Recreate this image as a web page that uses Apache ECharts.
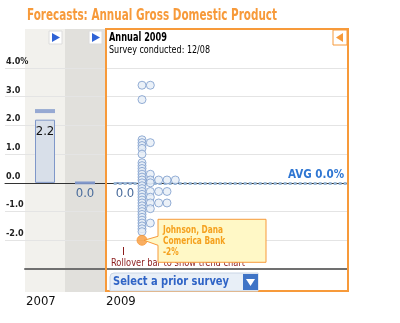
<!DOCTYPE html>
<html><head><meta charset="utf-8">
<script src="https://cdn.jsdelivr.net/npm/echarts@6/dist/echarts.min.js"></script>
<style>html,body{margin:0;padding:0;background:#fff}#c{width:400px;height:323px}</style>
</head><body><div id="c"></div>
<script>
// Annual GDP growth, %
const years = ['2007', '2008', '2009'];
const reportedGrowth = [2.2, 0.0, 0.0];
const priorConsensus = [2.5, 0.0, null];
const yTickValues = [4, 3, 2, 1, 0, -1, -2];

// 2009 survey: one value per economist, %
const forecasts2009 = [3.4, 3.4, 2.9, 1.5, 1.4, 1.4, 1.3, 1.2, 1.0, 0.7, 0.6, 0.5, 0.4,
  0.3, 0.3, 0.2, 0.1, 0.1, 0.1, 0.1, 0.1, 0.0, 0.0, -0.1, -0.2, -0.3, -0.3, -0.3, -0.3,
  -0.4, -0.5, -0.5, -0.6, -0.7, -0.7, -0.7, -0.7, -0.8, -0.9, -0.9, -1.0, -1.1, -1.2,
  -1.3, -1.4, -1.4, -1.5, -1.6, -1.7, -2.0];
const surveyAverage = 0.0;
const highlighted = { name: 'Johnson, Dana', firm: 'Comerica Bank', value: -2.0 };

const ORANGE = '#f79a3a';

// pick a condensed face when one is installed
const probe = document.createElement('canvas').getContext('2d');
function textWidth(font, t) { probe.font = font; return probe.measureText(t).width; }
const condensedOK = textWidth("condensed 20px 'DejaVu Sans'", 'Survey conducted') <
  0.95 * textWidth("20px 'DejaVu Sans'", 'Survey conducted');
const FAMILY = condensedOK ? "'DejaVu Sans'" : "'Liberation Sans'";
const STRETCH = condensedOK ? 'condensed' : 'normal';
const fontOf = (size, weight) => (condensedOK ? 'condensed ' : '') + (weight || 'normal') + ' ' + size + 'px ' + FAMILY;

// text squeezed to a given width
function fitText(id, text, x, y, size, weight, fill, targetW, z) {
  const font = fontOf(size, weight);
  const s = targetW / textWidth(font, text);
  return { type: 'text', id: id, z: z || 50, x: x, y: y, scaleX: s,
    style: { text: text, fill: fill, font: font, textVerticalAlign: 'middle' } };
}

// stack repeated values side by side
const seen = {};
const dots = forecasts2009.map(v => {
  const key = v.toFixed(1);
  const k = seen[key] || 0;
  seen[key] = k + 1;
  const item = { value: [k, v] };
  if (v === highlighted.value && k === 0) {
    item.symbolSize = 10;
    item.z = 10;
    item.itemStyle = { color: ORANGE, borderColor: ORANGE };
  }
  return item;
});

const yBase = { type: 'value', min: -3, max: 4, interval: 1 };
const plainY = i => Object.assign({}, yBase, { gridIndex: i, show: false, splitLine: { show: false } });
const gTop = 68, gH = 201;
const lbl = (size, weight) => ({ fontSize: size, fontWeight: weight || 'normal', fontFamily: FAMILY, fontStyle: STRETCH });

const chart = echarts.init(document.getElementById('c'));
chart.setOption({
  animation: false,
  grid: [
    { left: 5, width: 342, top: gTop, height: gH * 6 / 7 },  // gridlines + zero line
    { left: 25, width: 120, top: gTop, height: gH },         // year columns
    { left: 106, width: 242, top: gTop, height: gH },        // 2009 forecast dots
    { left: 25, width: 322, top: gTop, height: gH }          // base line
  ],
  xAxis: [
    { gridIndex: 0, type: 'value', min: 0, max: 1, axisLine: { show: true, onZero: true, lineStyle: { color: '#333', width: 1 } },
      axisTick: { show: false }, axisLabel: { show: false }, splitLine: { show: false } },
    { gridIndex: 1, type: 'category', data: years, axisLine: { show: false }, axisTick: { show: false },
      axisLabel: Object.assign({ margin: 26, color: '#111',
        formatter: v => '{y|' + v + '}', rich: { y: Object.assign({ width: 38, align: 'left', color: '#111' }, lbl(13)) } }, lbl(13)) },
    { gridIndex: 2, type: 'value', min: -4.32, max: 24.72, show: false },
    { gridIndex: 3, type: 'value', min: 0, max: 1, axisLine: { show: true, onZero: false, lineStyle: { color: '#707070', width: 2 } },
      axisTick: { show: false }, axisLabel: { show: false }, splitLine: { show: false } }
  ],
  yAxis: [
    { gridIndex: 0, type: 'value', min: -2, max: 4, interval: 1, axisLine: { show: false }, axisTick: { show: false },
      splitLine: { lineStyle: { color: '#e4e4e4', width: 1 } },
      axisLabel: Object.assign({ inside: true, margin: 1, verticalAlign: 'bottom', padding: [0, 0, 2, 0], color: '#222',
        formatter: v => yTickValues.indexOf(v) < 0 ? '' : (v === 4 ? v.toFixed(1) + '%' : v.toFixed(1)) }, lbl(9, 'bold')) },
    plainY(1), plainY(2), plainY(3)
  ],
  graphic: [
    { type: 'rect', id: 'bg07', z: -5, shape: { x: 25, y: 29, width: 40, height: 263 }, style: { fill: '#f2f1ed' } },
    { type: 'rect', id: 'bg08', z: -5, shape: { x: 65, y: 29, width: 41, height: 263 }, style: { fill: '#e1e0dc' } },
    { type: 'rect', id: 'bg09', z: -5, shape: { x: 106, y: 29, width: 242, height: 262 }, style: { fill: '#fff' } },
    { type: 'rect', id: 'frame', z: 50, shape: { x: 106, y: 29, width: 242, height: 262 }, style: { fill: 'none', stroke: ORANGE, lineWidth: 2 } },
    fitText('title', 'Forecasts: Annual Gross Domestic Product', 27, 16, 15, 'bold', ORANGE, 250),
    // column arrows
    { type: 'rect', id: 'b1', z: 50, shape: { x: 49, y: 31, width: 13, height: 13 }, style: { fill: '#fff', stroke: '#dcdcdc' } },
    { type: 'polygon', id: 'b1a', z: 51, shape: { points: [[52, 33], [52, 42], [60, 37.5]] }, style: { fill: '#2f63d6' } },
    { type: 'rect', id: 'b2', z: 50, shape: { x: 89, y: 31, width: 13, height: 13 }, style: { fill: '#fff', stroke: '#dcdcdc' } },
    { type: 'polygon', id: 'b2a', z: 51, shape: { points: [[92, 33], [92, 42], [100, 37.5]] }, style: { fill: '#2f63d6' } },
    { type: 'rect', id: 'b3', z: 50, shape: { x: 333, y: 30, width: 14, height: 15 }, style: { fill: '#fff', stroke: ORANGE } },
    { type: 'polygon', id: 'b3a', z: 51, shape: { points: [[343, 33], [343, 42], [336, 37.5]] }, style: { fill: ORANGE } },
    fitText('yr', 'Annual 2009', 109, 38, 13, 'bold', '#000', 58),
    fitText('sv', 'Survey conducted: 12/08', 109, 50, 11, 'normal', '#000', 101),
    // hint
    { type: 'line', id: 'tick', z: 5, shape: { x1: 123.5, y1: 247, x2: 123.5, y2: 255 }, style: { stroke: '#8b1c1c', lineWidth: 1 } },
    fitText('hint', 'Rollover bar to show trend chart', 111, 263, 11, 'normal', '#8b1c1c', 134, 5),
    // survey selector
    { type: 'rect', id: 'sel', z: 50, shape: { x: 110, y: 273, width: 148, height: 18, r: [4, 0, 0, 0] }, style: { fill: '#e8eff7', stroke: '#c9d6e6' } },
    fitText('selt', 'Select a prior survey', 113, 282, 12.5, 'bold', '#2f64c6', 116, 51),
    { type: 'rect', id: 'selb', z: 51, shape: { x: 243, y: 274, width: 15, height: 16 }, style: { fill: '#3f74c6' } },
    { type: 'polygon', id: 'selba', z: 52, shape: { points: [[246, 279], [255, 279], [250.5, 286]] }, style: { fill: '#fff' } }
  ],
  series: [
    { type: 'bar', xAxisIndex: 1, yAxisIndex: 1, barWidth: 20, z: 3,
      data: reportedGrowth.map(v => ({
        value: v,
        label: Object.assign(v > 0
          ? { show: true, position: 'insideTop', color: '#111' }
          : { show: true, position: 'bottom', distance: 4, color: '#4a6c9c' },
          { formatter: p => p.value.toFixed(1) }, lbl(13))
      })),
      itemStyle: { color: '#d8dfe9', borderColor: '#7f97c9', borderWidth: 1 } },
    { type: 'scatter', xAxisIndex: 1, yAxisIndex: 1, symbol: 'rect', z: 4,
      data: priorConsensus.map((v, i) => ({ value: v, symbolSize: i === 0 ? [20, 4] : [20, 3] })),
      itemStyle: { color: '#7f97cc' } },
    { type: 'scatter', xAxisIndex: 2, yAxisIndex: 2, symbolSize: 8, z: 6, data: dots,
      itemStyle: { color: '#e6eef6', borderColor: '#7b9bcc', borderWidth: 1 },
      markLine: { silent: true, symbol: 'none', z: 5,
        lineStyle: { color: '#9cbad8', width: 3, type: [3, 2] },
        label: Object.assign({ show: true, position: 'insideEndTop', distance: [4, 2], formatter: 'AVG ' + surveyAverage.toFixed(1) + '%',
          color: '#2f76d2' }, lbl(11.5, 'bold')),
        data: [[{ coord: [-3.4, surveyAverage] }, { coord: [24.72, surveyAverage] }]] } }
  ]
});

// callout for the highlighted economist, anchored at the dot
const hp = chart.convertToPixel({ gridIndex: 2 }, [0, highlighted.value]);
const bx = hp[0] + 16, by = hp[1] - 21, bw = 108, bh = 43;
const callText = highlighted.name + '\n' + highlighted.firm + '\n' + Math.round(highlighted.value) + '%';
const cFont = fontOf(11, 'bold');
const cScale = 60 / textWidth(cFont, highlighted.name);
chart.setOption({ graphic: [
  { type: 'polygon', id: 'callout', z: 60,
    shape: { points: [[bx, by], [bx + bw, by], [bx + bw, by + bh], [bx, by + bh], [bx, hp[1] + 5], [hp[0] + 2, hp[1]], [bx, hp[1] - 4]] },
    style: { fill: '#fff8c6', stroke: ORANGE, lineWidth: 1 } },
  { type: 'text', id: 'calloutText', z: 61, x: bx + 5, y: by + 5, scaleX: cScale,
    style: { text: callText, fill: '#f5a11e', font: cFont, lineHeight: 11, textVerticalAlign: 'top' } }
] });
</script></body></html>
